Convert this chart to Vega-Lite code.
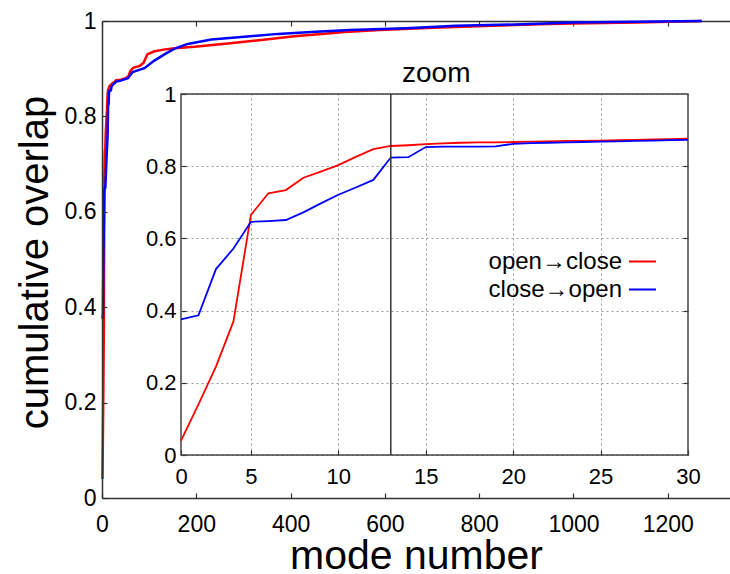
{
  "$schema": "https://vega.github.io/schema/vega-lite/v6.json",
  "width": 628,
  "height": 477,
  "autosize": "none",
  "padding": {"left": 102, "top": 21, "right": 0, "bottom": 76},
  "background": "white",
  "config": {
    "font": "Liberation Sans",
    "view": {"stroke": null},
    "axis": {
      "labelColor": "#000", "titleColor": "#000", "domainColor": "#333", "domainWidth": 1.5,
      "tickColor": "#333", "tickWidth": 1.2, "labelFont": "Liberation Sans", "titleFont": "Liberation Sans",
      "labelFlush": false, "labelOverlap": false, "titleFontWeight": "normal"
    }
  },
  "datasets": {
    "curves": [
      {"mode": 1, "overlap": 0.04, "dir": "open→close"},
      {"mode": 2, "overlap": 0.14, "dir": "open→close"},
      {"mode": 3, "overlap": 0.245, "dir": "open→close"},
      {"mode": 4, "overlap": 0.37, "dir": "open→close"},
      {"mode": 5, "overlap": 0.665, "dir": "open→close"},
      {"mode": 6, "overlap": 0.725, "dir": "open→close"},
      {"mode": 7, "overlap": 0.734, "dir": "open→close"},
      {"mode": 8, "overlap": 0.768, "dir": "open→close"},
      {"mode": 9, "overlap": 0.785, "dir": "open→close"},
      {"mode": 10, "overlap": 0.803, "dir": "open→close"},
      {"mode": 11, "overlap": 0.826, "dir": "open→close"},
      {"mode": 12, "overlap": 0.847, "dir": "open→close"},
      {"mode": 13, "overlap": 0.856, "dir": "open→close"},
      {"mode": 14, "overlap": 0.858, "dir": "open→close"},
      {"mode": 15, "overlap": 0.861, "dir": "open→close"},
      {"mode": 16, "overlap": 0.863, "dir": "open→close"},
      {"mode": 17, "overlap": 0.865, "dir": "open→close"},
      {"mode": 18, "overlap": 0.866, "dir": "open→close"},
      {"mode": 19, "overlap": 0.866, "dir": "open→close"},
      {"mode": 20, "overlap": 0.867, "dir": "open→close"},
      {"mode": 21, "overlap": 0.868, "dir": "open→close"},
      {"mode": 22, "overlap": 0.869, "dir": "open→close"},
      {"mode": 23, "overlap": 0.87, "dir": "open→close"},
      {"mode": 24, "overlap": 0.87, "dir": "open→close"},
      {"mode": 25, "overlap": 0.871, "dir": "open→close"},
      {"mode": 26, "overlap": 0.872, "dir": "open→close"},
      {"mode": 27, "overlap": 0.873, "dir": "open→close"},
      {"mode": 28, "overlap": 0.874, "dir": "open→close"},
      {"mode": 29, "overlap": 0.875, "dir": "open→close"},
      {"mode": 30, "overlap": 0.876, "dir": "open→close"},
      {"mode": 40, "overlap": 0.877, "dir": "open→close"},
      {"mode": 50, "overlap": 0.88, "dir": "open→close"},
      {"mode": 56, "overlap": 0.884, "dir": "open→close"},
      {"mode": 60, "overlap": 0.895, "dir": "open→close"},
      {"mode": 66, "overlap": 0.902, "dir": "open→close"},
      {"mode": 80, "overlap": 0.906, "dir": "open→close"},
      {"mode": 88, "overlap": 0.912, "dir": "open→close"},
      {"mode": 96, "overlap": 0.93, "dir": "open→close"},
      {"mode": 110, "overlap": 0.936, "dir": "open→close"},
      {"mode": 130, "overlap": 0.94, "dir": "open→close"},
      {"mode": 154, "overlap": 0.943, "dir": "open→close"},
      {"mode": 196, "overlap": 0.946, "dir": "open→close"},
      {"mode": 267, "overlap": 0.953, "dir": "open→close"},
      {"mode": 338, "overlap": 0.96, "dir": "open→close"},
      {"mode": 408, "overlap": 0.968, "dir": "open→close"},
      {"mode": 479, "overlap": 0.974, "dir": "open→close"},
      {"mode": 514, "overlap": 0.977, "dir": "open→close"},
      {"mode": 589, "overlap": 0.981, "dir": "open→close"},
      {"mode": 702, "overlap": 0.986, "dir": "open→close"},
      {"mode": 829, "overlap": 0.99, "dir": "open→close"},
      {"mode": 928, "overlap": 0.993, "dir": "open→close"},
      {"mode": 999, "overlap": 0.995, "dir": "open→close"},
      {"mode": 1133, "overlap": 0.997, "dir": "open→close"},
      {"mode": 1272, "overlap": 1.0, "dir": "open→close"},
      {"mode": 1, "overlap": 0.376, "dir": "close→open"},
      {"mode": 2, "overlap": 0.387, "dir": "close→open"},
      {"mode": 3, "overlap": 0.515, "dir": "close→open"},
      {"mode": 4, "overlap": 0.572, "dir": "close→open"},
      {"mode": 5, "overlap": 0.646, "dir": "close→open"},
      {"mode": 6, "overlap": 0.648, "dir": "close→open"},
      {"mode": 7, "overlap": 0.651, "dir": "close→open"},
      {"mode": 8, "overlap": 0.672, "dir": "close→open"},
      {"mode": 9, "overlap": 0.697, "dir": "close→open"},
      {"mode": 10, "overlap": 0.721, "dir": "close→open"},
      {"mode": 11, "overlap": 0.741, "dir": "close→open"},
      {"mode": 12, "overlap": 0.762, "dir": "close→open"},
      {"mode": 13, "overlap": 0.824, "dir": "close→open"},
      {"mode": 14, "overlap": 0.825, "dir": "close→open"},
      {"mode": 15, "overlap": 0.853, "dir": "close→open"},
      {"mode": 16, "overlap": 0.854, "dir": "close→open"},
      {"mode": 17, "overlap": 0.854, "dir": "close→open"},
      {"mode": 18, "overlap": 0.854, "dir": "close→open"},
      {"mode": 19, "overlap": 0.855, "dir": "close→open"},
      {"mode": 20, "overlap": 0.862, "dir": "close→open"},
      {"mode": 21, "overlap": 0.864, "dir": "close→open"},
      {"mode": 22, "overlap": 0.865, "dir": "close→open"},
      {"mode": 23, "overlap": 0.866, "dir": "close→open"},
      {"mode": 24, "overlap": 0.867, "dir": "close→open"},
      {"mode": 25, "overlap": 0.868, "dir": "close→open"},
      {"mode": 26, "overlap": 0.869, "dir": "close→open"},
      {"mode": 27, "overlap": 0.87, "dir": "close→open"},
      {"mode": 28, "overlap": 0.871, "dir": "close→open"},
      {"mode": 29, "overlap": 0.872, "dir": "close→open"},
      {"mode": 30, "overlap": 0.873, "dir": "close→open"},
      {"mode": 40, "overlap": 0.875, "dir": "close→open"},
      {"mode": 55, "overlap": 0.88, "dir": "close→open"},
      {"mode": 65, "overlap": 0.893, "dir": "close→open"},
      {"mode": 90, "overlap": 0.901, "dir": "close→open"},
      {"mode": 111, "overlap": 0.917, "dir": "close→open"},
      {"mode": 136, "overlap": 0.932, "dir": "close→open"},
      {"mode": 154, "overlap": 0.942, "dir": "close→open"},
      {"mode": 182, "overlap": 0.952, "dir": "close→open"},
      {"mode": 232, "overlap": 0.961, "dir": "close→open"},
      {"mode": 302, "overlap": 0.967, "dir": "close→open"},
      {"mode": 373, "overlap": 0.973, "dir": "close→open"},
      {"mode": 444, "overlap": 0.977, "dir": "close→open"},
      {"mode": 525, "overlap": 0.981, "dir": "close→open"},
      {"mode": 645, "overlap": 0.985, "dir": "close→open"},
      {"mode": 751, "overlap": 0.99, "dir": "close→open"},
      {"mode": 893, "overlap": 0.993, "dir": "close→open"},
      {"mode": 999, "overlap": 0.997, "dir": "close→open"},
      {"mode": 1272, "overlap": 1.0, "dir": "close→open"}
    ]
  },
  "layer": [
    {
      "data": {"name": "curves"},
      "layer": [
        {
          "transform": [{"filter": "datum.dir === 'open→close'"}],
          "mark": {"type": "line", "color": "#ff0000", "strokeWidth": 2.5},
          "encoding": {
            "x": {
              "field": "mode", "type": "quantitative",
              "scale": {"domain": [0, 1332], "nice": false, "zero": false},
              "axis": {
                "orient": "bottom", "values": [0, 200, 400, 600, 800, 1000, 1200], "format": "d",
                "title": "mode number", "titleFontSize": 41, "titleX": 314, "titleY": 70,
                "titleBaseline": "alphabetic", "titleAlign": "center",
                "labelFontSize": 23, "tickSize": -5, "labelPadding": 20, "grid": false
              }
            },
            "y": {
              "field": "overlap", "type": "quantitative",
              "scale": {"domain": [0, 1], "nice": false, "zero": false},
              "axis": {
                "orient": "left", "values": [0, 0.2, 0.4, 0.6, 0.8, 1], "format": ".1~f",
                "title": "cumulative overlap", "titleFontSize": 40, "titleX": -55, "titleY": 241,
                "titleAngle": -90, "titleBaseline": "alphabetic", "titleAlign": "center",
                "labelFontSize": 23, "tickSize": -5, "labelPadding": 11, "grid": false, "zindex": 1
              }
            }
          }
        },
        {
          "transform": [{"filter": "datum.dir === 'close→open'"}],
          "mark": {"type": "line", "color": "#0000ff", "strokeWidth": 2.5},
          "encoding": {
            "x": {
              "field": "mode", "type": "quantitative",
              "axis": {
                "orient": "top", "values": [0, 200, 400, 600, 800, 1000, 1200],
                "title": null, "labels": false, "tickSize": -5, "grid": false
              }
            },
            "y": {"field": "overlap", "type": "quantitative", "axis": null}
          }
        }
      ],
      "resolve": {"axis": {"x": "independent", "y": "independent"}}
    },
    {
      "layer": [
        {
          "data": {"values": [{}]},
          "mark": {"type": "rect", "filled": false, "stroke": "#444", "strokeWidth": 1.5},
          "encoding": {
            "x": {
              "datum": 1, "type": "quantitative",
              "scale": {"domain": [1, 30], "range": [79, 586], "nice": false, "zero": false},
              "axis": {
                "orient": "bottom", "offset": -43, "values": [1, 5, 10, 15, 20, 25, 30],
                "labelExpr": "datum.value == 1 ? '0' : datum.label",
                "title": null, "grid": false, "domain": false, "tickSize": -5,
                "labelPadding": 16, "labelFontSize": 22
              }
            },
            "x2": {"datum": 30},
            "y": {
              "datum": 0, "type": "quantitative",
              "scale": {"domain": [0, 1], "range": [434, 73], "nice": false, "zero": false},
              "axis": {
                "orient": "left", "offset": -79, "values": [0, 0.2, 0.4, 0.6, 0.8, 1], "format": ".1~f",
                "title": null, "domain": false, "grid": true, "gridDash": [2, 3], "gridColor": "#999",
                "tickSize": -5, "labelPadding": 10, "labelFontSize": 22
              }
            },
            "y2": {"datum": 1}
          }
        },
        {
          "data": {"name": "curves"},
          "transform": [{"filter": "datum.mode <= 30"}],
          "mark": {"type": "line", "strokeWidth": 1.8},
          "encoding": {
            "x": {
              "field": "mode", "type": "quantitative",
              "axis": {
                "orient": "top", "values": [5, 10, 15, 20, 25], "grid": true, "gridDash": [2, 3],
                "gridColor": "#999", "labels": false, "ticks": false, "domain": false, "title": null
              }
            },
            "y": {
              "field": "overlap", "type": "quantitative",
              "axis": {
                "orient": "right", "offset": -42, "values": [0.2, 0.4, 0.6, 0.8], "labels": false,
                "tickSize": -5, "domain": false, "grid": false, "title": null
              }
            },
            "color": {
              "field": "dir", "type": "nominal",
              "scale": {"domain": ["open→close", "close→open"], "range": ["#ff0000", "#0000ff"]},
              "legend": {
                "orient": "none", "legendX": 526, "legendY": 226, "title": null,
                "symbolType": "stroke", "symbolSize": 729, "symbolStrokeWidth": 2,
                "labelFontSize": 24, "labelFont": "Liberation Sans", "labelColor": "#000",
                "labelAlign": "right", "labelOffset": -35, "padding": 0, "rowPadding": 1,
                "labelLimit": 300
              }
            }
          }
        },
        {
          "data": {"values": [{}]},
          "mark": {"type": "rule", "color": "#333", "strokeWidth": 1.5},
          "encoding": {
            "x": {"datum": 13, "type": "quantitative", "axis": null},
            "y": {"datum": 0, "type": "quantitative", "axis": null},
            "y2": {"datum": 1}
          }
        },
        {
          "data": {"values": [{}]},
          "mark": {"type": "text", "text": "zoom", "fontSize": 28, "align": "center", "baseline": "alphabetic", "font": "Liberation Sans", "color": "#000"},
          "encoding": {
            "x": {"datum": 15.6, "type": "quantitative", "axis": null},
            "y": {"datum": 1.033, "type": "quantitative", "axis": null}
          }
        }
      ],
      "resolve": {"axis": {"x": "independent", "y": "independent"}}
    }
  ],
  "resolve": {"scale": {"x": "independent", "y": "independent"}}
}
